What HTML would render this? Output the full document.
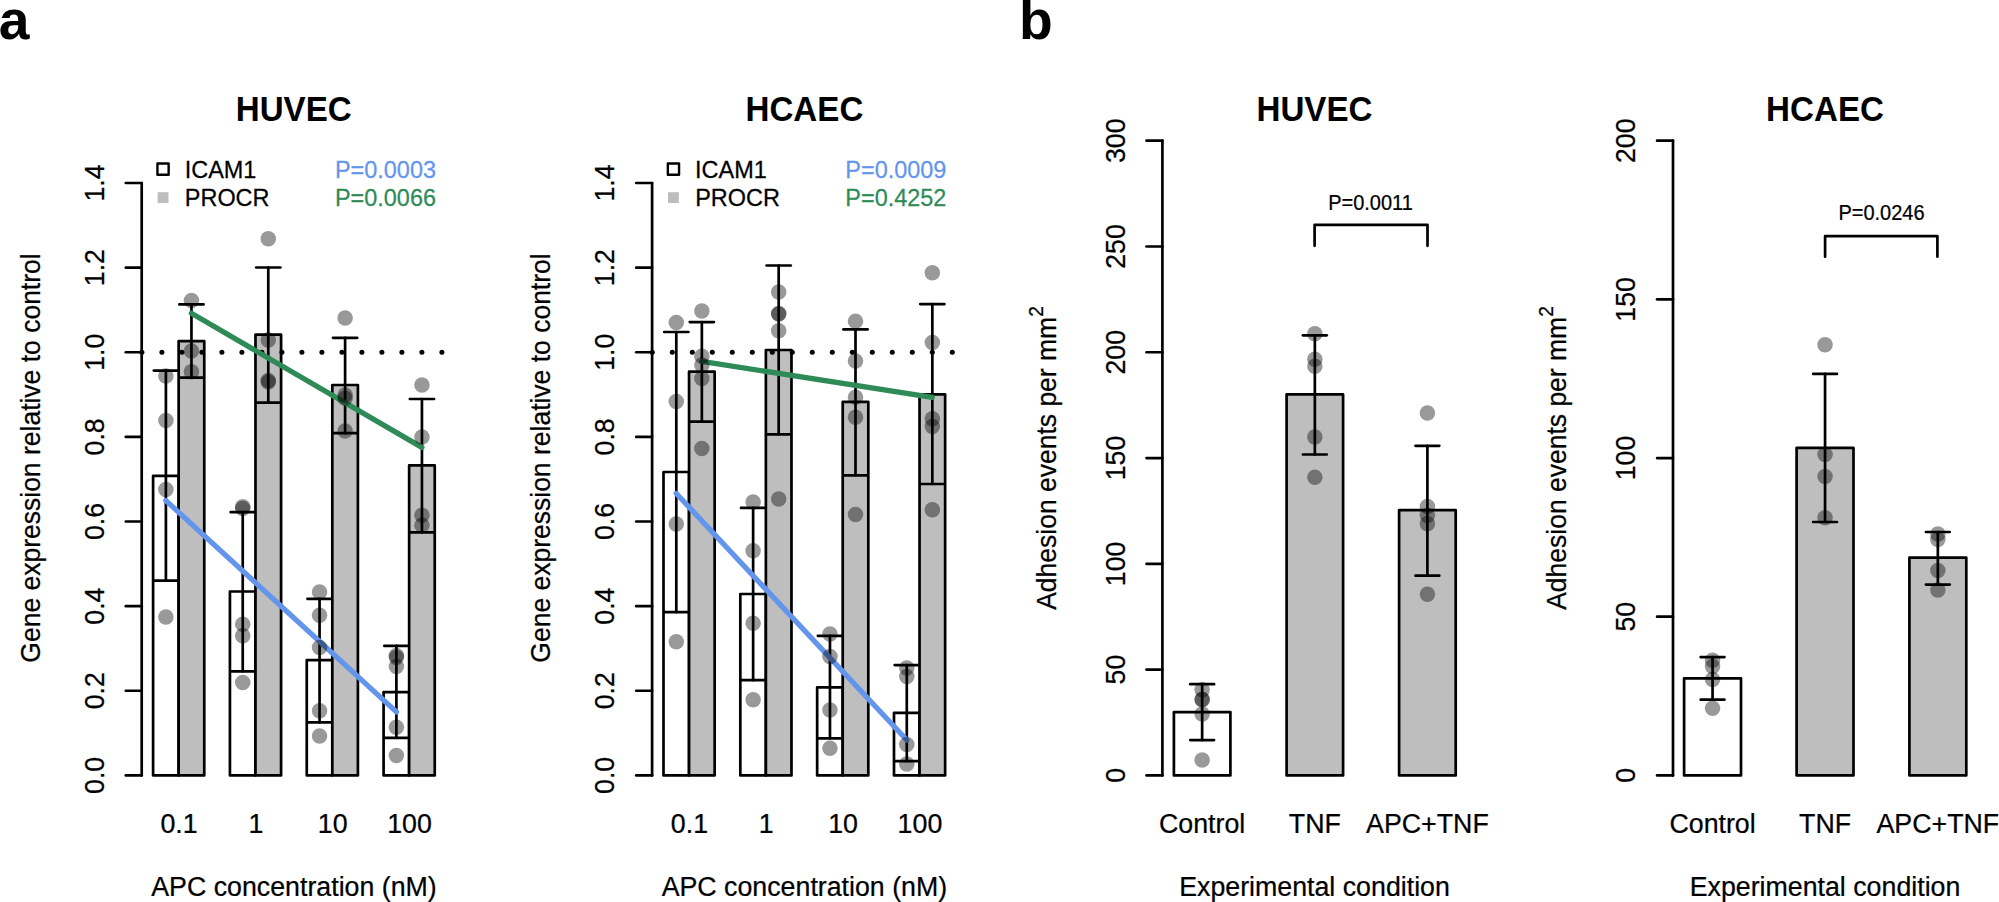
<!DOCTYPE html>
<html lang="en"><head><meta charset="utf-8"><title>Figure</title>
<style>html,body{margin:0;padding:0;background:#fff;}svg{display:block;}</style></head><body>
<svg width="1999" height="902" viewBox="0 0 1999 902" font-family='"Liberation Sans", Arial, Helvetica, sans-serif' fill="#000">
<rect x="0" y="0" width="1999" height="902" fill="#fff"/>
<text transform="translate(-1.3 38.75)" font-size="55.2" text-anchor="start" font-weight="bold">a</text>
<text transform="translate(1018.9 38.75)" font-size="55.2" text-anchor="start" font-weight="bold">b</text>
<rect x="153.1" y="475.8" width="25.55" height="299.6" fill="#fff" stroke="#000" stroke-width="2.7" stroke-linejoin="round"/>
<rect x="178.65" y="341.1" width="25.6" height="434.3" fill="#BEBEBE" stroke="#000" stroke-width="2.7" stroke-linejoin="round"/>
<rect x="229.93" y="591.5" width="25.55" height="183.9" fill="#fff" stroke="#000" stroke-width="2.7" stroke-linejoin="round"/>
<rect x="255.48" y="334.7" width="25.6" height="440.7" fill="#BEBEBE" stroke="#000" stroke-width="2.7" stroke-linejoin="round"/>
<rect x="306.76" y="660.2" width="25.55" height="115.2" fill="#fff" stroke="#000" stroke-width="2.7" stroke-linejoin="round"/>
<rect x="332.31" y="385" width="25.6" height="390.4" fill="#BEBEBE" stroke="#000" stroke-width="2.7" stroke-linejoin="round"/>
<rect x="383.59" y="692.1" width="25.55" height="83.3" fill="#fff" stroke="#000" stroke-width="2.7" stroke-linejoin="round"/>
<rect x="409.14" y="465.4" width="25.6" height="310" fill="#BEBEBE" stroke="#000" stroke-width="2.7" stroke-linejoin="round"/>
<line x1="165.9" y1="370.6" x2="165.9" y2="580.6" stroke="#000" stroke-width="2.7" stroke-linecap="round"/>
<line x1="153.8" y1="370.6" x2="178" y2="370.6" stroke="#000" stroke-width="2.7" stroke-linecap="round"/>
<line x1="153.8" y1="580.6" x2="178" y2="580.6" stroke="#000" stroke-width="2.7" stroke-linecap="round"/>
<line x1="191.45" y1="304.4" x2="191.45" y2="377.7" stroke="#000" stroke-width="2.7" stroke-linecap="round"/>
<line x1="179.35" y1="304.4" x2="203.55" y2="304.4" stroke="#000" stroke-width="2.7" stroke-linecap="round"/>
<line x1="179.35" y1="377.7" x2="203.55" y2="377.7" stroke="#000" stroke-width="2.7" stroke-linecap="round"/>
<line x1="242.73" y1="512.2" x2="242.73" y2="671.3" stroke="#000" stroke-width="2.7" stroke-linecap="round"/>
<line x1="230.63" y1="512.2" x2="254.83" y2="512.2" stroke="#000" stroke-width="2.7" stroke-linecap="round"/>
<line x1="230.63" y1="671.3" x2="254.83" y2="671.3" stroke="#000" stroke-width="2.7" stroke-linecap="round"/>
<line x1="268.28" y1="267.5" x2="268.28" y2="402.6" stroke="#000" stroke-width="2.7" stroke-linecap="round"/>
<line x1="256.18" y1="267.5" x2="280.38" y2="267.5" stroke="#000" stroke-width="2.7" stroke-linecap="round"/>
<line x1="256.18" y1="402.6" x2="280.38" y2="402.6" stroke="#000" stroke-width="2.7" stroke-linecap="round"/>
<line x1="319.56" y1="598.8" x2="319.56" y2="722.3" stroke="#000" stroke-width="2.7" stroke-linecap="round"/>
<line x1="307.46" y1="598.8" x2="331.66" y2="598.8" stroke="#000" stroke-width="2.7" stroke-linecap="round"/>
<line x1="307.46" y1="722.3" x2="331.66" y2="722.3" stroke="#000" stroke-width="2.7" stroke-linecap="round"/>
<line x1="345.11" y1="337.8" x2="345.11" y2="433.2" stroke="#000" stroke-width="2.7" stroke-linecap="round"/>
<line x1="333.01" y1="337.8" x2="357.21" y2="337.8" stroke="#000" stroke-width="2.7" stroke-linecap="round"/>
<line x1="333.01" y1="433.2" x2="357.21" y2="433.2" stroke="#000" stroke-width="2.7" stroke-linecap="round"/>
<line x1="396.39" y1="645.8" x2="396.39" y2="737.8" stroke="#000" stroke-width="2.7" stroke-linecap="round"/>
<line x1="384.29" y1="645.8" x2="408.49" y2="645.8" stroke="#000" stroke-width="2.7" stroke-linecap="round"/>
<line x1="384.29" y1="737.8" x2="408.49" y2="737.8" stroke="#000" stroke-width="2.7" stroke-linecap="round"/>
<line x1="421.94" y1="399" x2="421.94" y2="532.3" stroke="#000" stroke-width="2.7" stroke-linecap="round"/>
<line x1="409.84" y1="399" x2="434.04" y2="399" stroke="#000" stroke-width="2.7" stroke-linecap="round"/>
<line x1="409.84" y1="532.3" x2="434.04" y2="532.3" stroke="#000" stroke-width="2.7" stroke-linecap="round"/>
<circle cx="141.9" cy="352.26" r="2.5" fill="#000"/>
<circle cx="161.9" cy="352.26" r="2.5" fill="#000"/>
<circle cx="181.9" cy="352.26" r="2.5" fill="#000"/>
<circle cx="201.9" cy="352.26" r="2.5" fill="#000"/>
<circle cx="221.9" cy="352.26" r="2.5" fill="#000"/>
<circle cx="241.9" cy="352.26" r="2.5" fill="#000"/>
<circle cx="261.9" cy="352.26" r="2.5" fill="#000"/>
<circle cx="281.9" cy="352.26" r="2.5" fill="#000"/>
<circle cx="301.9" cy="352.26" r="2.5" fill="#000"/>
<circle cx="321.9" cy="352.26" r="2.5" fill="#000"/>
<circle cx="341.9" cy="352.26" r="2.5" fill="#000"/>
<circle cx="361.9" cy="352.26" r="2.5" fill="#000"/>
<circle cx="381.9" cy="352.26" r="2.5" fill="#000"/>
<circle cx="401.9" cy="352.26" r="2.5" fill="#000"/>
<circle cx="421.9" cy="352.26" r="2.5" fill="#000"/>
<circle cx="441.9" cy="352.26" r="2.5" fill="#000"/>
<line x1="191.4" y1="313.3" x2="421.9" y2="447.4" stroke="#2E8B57" stroke-width="5.3" stroke-linecap="round"/>
<line x1="165.9" y1="500.6" x2="396.4" y2="711.9" stroke="#6495ED" stroke-width="5.3" stroke-linecap="round"/>
<circle cx="165.9" cy="376.1" r="7.75" fill="#000" fill-opacity="0.4"/>
<circle cx="165.9" cy="420.6" r="7.75" fill="#000" fill-opacity="0.4"/>
<circle cx="165.9" cy="489.5" r="7.75" fill="#000" fill-opacity="0.4"/>
<circle cx="165.9" cy="617" r="7.75" fill="#000" fill-opacity="0.4"/>
<circle cx="191.45" cy="300.4" r="7.75" fill="#000" fill-opacity="0.4"/>
<circle cx="191.45" cy="351.1" r="7.75" fill="#000" fill-opacity="0.4"/>
<circle cx="191.45" cy="371.7" r="7.75" fill="#000" fill-opacity="0.4"/>
<circle cx="242.73" cy="506.8" r="7.75" fill="#000" fill-opacity="0.4"/>
<circle cx="242.73" cy="508.4" r="7.75" fill="#000" fill-opacity="0.4"/>
<circle cx="242.73" cy="624.3" r="7.75" fill="#000" fill-opacity="0.4"/>
<circle cx="242.73" cy="635.8" r="7.75" fill="#000" fill-opacity="0.4"/>
<circle cx="242.73" cy="682.4" r="7.75" fill="#000" fill-opacity="0.4"/>
<circle cx="268.28" cy="238.7" r="7.75" fill="#000" fill-opacity="0.4"/>
<circle cx="268.28" cy="340" r="7.75" fill="#000" fill-opacity="0.4"/>
<circle cx="268.28" cy="380.4" r="7.75" fill="#000" fill-opacity="0.4"/>
<circle cx="268.28" cy="382" r="7.75" fill="#000" fill-opacity="0.4"/>
<circle cx="319.56" cy="591.9" r="7.75" fill="#000" fill-opacity="0.4"/>
<circle cx="319.56" cy="615.2" r="7.75" fill="#000" fill-opacity="0.4"/>
<circle cx="319.56" cy="647.6" r="7.75" fill="#000" fill-opacity="0.4"/>
<circle cx="319.56" cy="710.8" r="7.75" fill="#000" fill-opacity="0.4"/>
<circle cx="319.56" cy="736" r="7.75" fill="#000" fill-opacity="0.4"/>
<circle cx="345.11" cy="318.1" r="7.75" fill="#000" fill-opacity="0.4"/>
<circle cx="345.11" cy="395" r="7.75" fill="#000" fill-opacity="0.4"/>
<circle cx="345.11" cy="398.3" r="7.75" fill="#000" fill-opacity="0.4"/>
<circle cx="345.11" cy="431" r="7.75" fill="#000" fill-opacity="0.4"/>
<circle cx="396.39" cy="655.4" r="7.75" fill="#000" fill-opacity="0.4"/>
<circle cx="396.39" cy="657.4" r="7.75" fill="#000" fill-opacity="0.4"/>
<circle cx="396.39" cy="666.4" r="7.75" fill="#000" fill-opacity="0.4"/>
<circle cx="396.39" cy="727.2" r="7.75" fill="#000" fill-opacity="0.4"/>
<circle cx="396.39" cy="755.6" r="7.75" fill="#000" fill-opacity="0.4"/>
<circle cx="421.94" cy="385" r="7.75" fill="#000" fill-opacity="0.4"/>
<circle cx="421.94" cy="437" r="7.75" fill="#000" fill-opacity="0.4"/>
<circle cx="421.94" cy="515.2" r="7.75" fill="#000" fill-opacity="0.4"/>
<circle cx="421.94" cy="525.2" r="7.75" fill="#000" fill-opacity="0.4"/>
<line x1="141.7" y1="775.4" x2="141.7" y2="183" stroke="#000" stroke-width="2.7" stroke-linecap="round"/>
<line x1="125.8" y1="775.4" x2="141.7" y2="775.4" stroke="#000" stroke-width="2.7" stroke-linecap="round"/>
<text transform="translate(103.5 775.4) rotate(-90) scale(0.97 1)" font-size="27.6" text-anchor="middle" stroke="#000" stroke-width="0.25">0.0</text>
<line x1="125.8" y1="690.77" x2="141.7" y2="690.77" stroke="#000" stroke-width="2.7" stroke-linecap="round"/>
<text transform="translate(103.5 690.77) rotate(-90) scale(0.97 1)" font-size="27.6" text-anchor="middle" stroke="#000" stroke-width="0.25">0.2</text>
<line x1="125.8" y1="606.14" x2="141.7" y2="606.14" stroke="#000" stroke-width="2.7" stroke-linecap="round"/>
<text transform="translate(103.5 606.14) rotate(-90) scale(0.97 1)" font-size="27.6" text-anchor="middle" stroke="#000" stroke-width="0.25">0.4</text>
<line x1="125.8" y1="521.51" x2="141.7" y2="521.51" stroke="#000" stroke-width="2.7" stroke-linecap="round"/>
<text transform="translate(103.5 521.51) rotate(-90) scale(0.97 1)" font-size="27.6" text-anchor="middle" stroke="#000" stroke-width="0.25">0.6</text>
<line x1="125.8" y1="436.89" x2="141.7" y2="436.89" stroke="#000" stroke-width="2.7" stroke-linecap="round"/>
<text transform="translate(103.5 436.89) rotate(-90) scale(0.97 1)" font-size="27.6" text-anchor="middle" stroke="#000" stroke-width="0.25">0.8</text>
<line x1="125.8" y1="352.26" x2="141.7" y2="352.26" stroke="#000" stroke-width="2.7" stroke-linecap="round"/>
<text transform="translate(103.5 352.26) rotate(-90) scale(0.97 1)" font-size="27.6" text-anchor="middle" stroke="#000" stroke-width="0.25">1.0</text>
<line x1="125.8" y1="267.63" x2="141.7" y2="267.63" stroke="#000" stroke-width="2.7" stroke-linecap="round"/>
<text transform="translate(103.5 267.63) rotate(-90) scale(0.97 1)" font-size="27.6" text-anchor="middle" stroke="#000" stroke-width="0.25">1.2</text>
<line x1="125.8" y1="183" x2="141.7" y2="183" stroke="#000" stroke-width="2.7" stroke-linecap="round"/>
<text transform="translate(103.5 183) rotate(-90) scale(0.97 1)" font-size="27.6" text-anchor="middle" stroke="#000" stroke-width="0.25">1.4</text>
<text transform="translate(179.05 833) scale(0.97 1)" font-size="27.6" text-anchor="middle" stroke="#000" stroke-width="0.25">0.1</text>
<text transform="translate(255.88 833) scale(0.97 1)" font-size="27.6" text-anchor="middle" stroke="#000" stroke-width="0.25">1</text>
<text transform="translate(332.71 833) scale(0.97 1)" font-size="27.6" text-anchor="middle" stroke="#000" stroke-width="0.25">10</text>
<text transform="translate(409.54 833) scale(0.97 1)" font-size="27.6" text-anchor="middle" stroke="#000" stroke-width="0.25">100</text>
<text transform="translate(294 896) scale(0.97 1)" font-size="27.6" text-anchor="middle" stroke="#000" stroke-width="0.25">APC concentration (nM)</text>
<text transform="translate(40 458) rotate(-90) scale(0.96 1)" font-size="27.6" text-anchor="middle" stroke="#000" stroke-width="0.25">Gene expression relative to control</text>
<text transform="translate(293.75 121) scale(0.95 1)" font-size="34.9" text-anchor="middle" font-weight="bold">HUVEC</text>
<rect x="157.45" y="163.55" width="11.2" height="11.2" fill="none" stroke="#000" stroke-width="2.4" stroke-linejoin="round"/>
<rect x="157.6" y="192.2" width="10.9" height="10.9" fill="#BEBEBE"/>
<text transform="translate(184.7 178) scale(0.95 1)" font-size="24.7" text-anchor="start" stroke="#000" stroke-width="0.25">ICAM1</text>
<text transform="translate(184.8 206) scale(0.95 1)" font-size="24.7" text-anchor="start" stroke="#000" stroke-width="0.25">PROCR</text>
<text transform="translate(334.9 178) scale(0.95 1)" font-size="24.7" text-anchor="start" fill="#6495ED" stroke="#6495ED" stroke-width="0.25">P=0.0003</text>
<text transform="translate(334.9 206) scale(0.95 1)" font-size="24.7" text-anchor="start" fill="#2E8B57" stroke="#2E8B57" stroke-width="0.25">P=0.0066</text>
<rect x="663.5" y="472" width="25.55" height="303.4" fill="#fff" stroke="#000" stroke-width="2.7" stroke-linejoin="round"/>
<rect x="689.05" y="371.7" width="25.6" height="403.7" fill="#BEBEBE" stroke="#000" stroke-width="2.7" stroke-linejoin="round"/>
<rect x="740.33" y="594" width="25.55" height="181.4" fill="#fff" stroke="#000" stroke-width="2.7" stroke-linejoin="round"/>
<rect x="765.88" y="350" width="25.6" height="425.4" fill="#BEBEBE" stroke="#000" stroke-width="2.7" stroke-linejoin="round"/>
<rect x="817.16" y="687.3" width="25.55" height="88.1" fill="#fff" stroke="#000" stroke-width="2.7" stroke-linejoin="round"/>
<rect x="842.71" y="401.9" width="25.6" height="373.5" fill="#BEBEBE" stroke="#000" stroke-width="2.7" stroke-linejoin="round"/>
<rect x="893.99" y="712.8" width="25.55" height="62.6" fill="#fff" stroke="#000" stroke-width="2.7" stroke-linejoin="round"/>
<rect x="919.54" y="394.3" width="25.6" height="381.1" fill="#BEBEBE" stroke="#000" stroke-width="2.7" stroke-linejoin="round"/>
<line x1="676.3" y1="332" x2="676.3" y2="612.1" stroke="#000" stroke-width="2.7" stroke-linecap="round"/>
<line x1="664.2" y1="332" x2="688.4" y2="332" stroke="#000" stroke-width="2.7" stroke-linecap="round"/>
<line x1="664.2" y1="612.1" x2="688.4" y2="612.1" stroke="#000" stroke-width="2.7" stroke-linecap="round"/>
<line x1="701.85" y1="322.05" x2="701.85" y2="421.7" stroke="#000" stroke-width="2.7" stroke-linecap="round"/>
<line x1="689.75" y1="322.05" x2="713.95" y2="322.05" stroke="#000" stroke-width="2.7" stroke-linecap="round"/>
<line x1="689.75" y1="421.7" x2="713.95" y2="421.7" stroke="#000" stroke-width="2.7" stroke-linecap="round"/>
<line x1="753.13" y1="507.9" x2="753.13" y2="680.2" stroke="#000" stroke-width="2.7" stroke-linecap="round"/>
<line x1="741.03" y1="507.9" x2="765.23" y2="507.9" stroke="#000" stroke-width="2.7" stroke-linecap="round"/>
<line x1="741.03" y1="680.2" x2="765.23" y2="680.2" stroke="#000" stroke-width="2.7" stroke-linecap="round"/>
<line x1="778.68" y1="265.5" x2="778.68" y2="434.3" stroke="#000" stroke-width="2.7" stroke-linecap="round"/>
<line x1="766.58" y1="265.5" x2="790.78" y2="265.5" stroke="#000" stroke-width="2.7" stroke-linecap="round"/>
<line x1="766.58" y1="434.3" x2="790.78" y2="434.3" stroke="#000" stroke-width="2.7" stroke-linecap="round"/>
<line x1="829.96" y1="635.8" x2="829.96" y2="738.3" stroke="#000" stroke-width="2.7" stroke-linecap="round"/>
<line x1="817.86" y1="635.8" x2="842.06" y2="635.8" stroke="#000" stroke-width="2.7" stroke-linecap="round"/>
<line x1="817.86" y1="738.3" x2="842.06" y2="738.3" stroke="#000" stroke-width="2.7" stroke-linecap="round"/>
<line x1="855.51" y1="329.4" x2="855.51" y2="475.3" stroke="#000" stroke-width="2.7" stroke-linecap="round"/>
<line x1="843.41" y1="329.4" x2="867.61" y2="329.4" stroke="#000" stroke-width="2.7" stroke-linecap="round"/>
<line x1="843.41" y1="475.3" x2="867.61" y2="475.3" stroke="#000" stroke-width="2.7" stroke-linecap="round"/>
<line x1="906.79" y1="665.1" x2="906.79" y2="761.1" stroke="#000" stroke-width="2.7" stroke-linecap="round"/>
<line x1="894.69" y1="665.1" x2="918.89" y2="665.1" stroke="#000" stroke-width="2.7" stroke-linecap="round"/>
<line x1="894.69" y1="761.1" x2="918.89" y2="761.1" stroke="#000" stroke-width="2.7" stroke-linecap="round"/>
<line x1="932.34" y1="304.1" x2="932.34" y2="484" stroke="#000" stroke-width="2.7" stroke-linecap="round"/>
<line x1="920.24" y1="304.1" x2="944.44" y2="304.1" stroke="#000" stroke-width="2.7" stroke-linecap="round"/>
<line x1="920.24" y1="484" x2="944.44" y2="484" stroke="#000" stroke-width="2.7" stroke-linecap="round"/>
<circle cx="652.3" cy="352.26" r="2.5" fill="#000"/>
<circle cx="672.3" cy="352.26" r="2.5" fill="#000"/>
<circle cx="692.3" cy="352.26" r="2.5" fill="#000"/>
<circle cx="712.3" cy="352.26" r="2.5" fill="#000"/>
<circle cx="732.3" cy="352.26" r="2.5" fill="#000"/>
<circle cx="752.3" cy="352.26" r="2.5" fill="#000"/>
<circle cx="772.3" cy="352.26" r="2.5" fill="#000"/>
<circle cx="792.3" cy="352.26" r="2.5" fill="#000"/>
<circle cx="812.3" cy="352.26" r="2.5" fill="#000"/>
<circle cx="832.3" cy="352.26" r="2.5" fill="#000"/>
<circle cx="852.3" cy="352.26" r="2.5" fill="#000"/>
<circle cx="872.3" cy="352.26" r="2.5" fill="#000"/>
<circle cx="892.3" cy="352.26" r="2.5" fill="#000"/>
<circle cx="912.3" cy="352.26" r="2.5" fill="#000"/>
<circle cx="932.3" cy="352.26" r="2.5" fill="#000"/>
<circle cx="952.3" cy="352.26" r="2.5" fill="#000"/>
<line x1="701.8" y1="361.4" x2="932.3" y2="397.3" stroke="#2E8B57" stroke-width="5.3" stroke-linecap="round"/>
<line x1="676.3" y1="493.5" x2="906.8" y2="740" stroke="#6495ED" stroke-width="5.3" stroke-linecap="round"/>
<circle cx="676.3" cy="322.5" r="7.75" fill="#000" fill-opacity="0.4"/>
<circle cx="676.3" cy="401.4" r="7.75" fill="#000" fill-opacity="0.4"/>
<circle cx="676.3" cy="523.9" r="7.75" fill="#000" fill-opacity="0.4"/>
<circle cx="676.3" cy="641.8" r="7.75" fill="#000" fill-opacity="0.4"/>
<circle cx="701.85" cy="311" r="7.75" fill="#000" fill-opacity="0.4"/>
<circle cx="701.85" cy="356.2" r="7.75" fill="#000" fill-opacity="0.4"/>
<circle cx="701.85" cy="365.1" r="7.75" fill="#000" fill-opacity="0.4"/>
<circle cx="701.85" cy="378.4" r="7.75" fill="#000" fill-opacity="0.4"/>
<circle cx="701.85" cy="448.5" r="7.75" fill="#000" fill-opacity="0.4"/>
<circle cx="753.13" cy="501.9" r="7.75" fill="#000" fill-opacity="0.4"/>
<circle cx="753.13" cy="550.7" r="7.75" fill="#000" fill-opacity="0.4"/>
<circle cx="753.13" cy="623.2" r="7.75" fill="#000" fill-opacity="0.4"/>
<circle cx="753.13" cy="699.7" r="7.75" fill="#000" fill-opacity="0.4"/>
<circle cx="778.68" cy="291.9" r="7.75" fill="#000" fill-opacity="0.4"/>
<circle cx="778.68" cy="313.6" r="7.75" fill="#000" fill-opacity="0.4"/>
<circle cx="778.68" cy="314" r="7.75" fill="#000" fill-opacity="0.4"/>
<circle cx="778.68" cy="330.7" r="7.75" fill="#000" fill-opacity="0.4"/>
<circle cx="778.68" cy="499" r="7.75" fill="#000" fill-opacity="0.4"/>
<circle cx="829.96" cy="634.1" r="7.75" fill="#000" fill-opacity="0.4"/>
<circle cx="829.96" cy="656.5" r="7.75" fill="#000" fill-opacity="0.4"/>
<circle cx="829.96" cy="710.1" r="7.75" fill="#000" fill-opacity="0.4"/>
<circle cx="829.96" cy="748.2" r="7.75" fill="#000" fill-opacity="0.4"/>
<circle cx="855.51" cy="321.2" r="7.75" fill="#000" fill-opacity="0.4"/>
<circle cx="855.51" cy="361.1" r="7.75" fill="#000" fill-opacity="0.4"/>
<circle cx="855.51" cy="397.2" r="7.75" fill="#000" fill-opacity="0.4"/>
<circle cx="855.51" cy="417.3" r="7.75" fill="#000" fill-opacity="0.4"/>
<circle cx="855.51" cy="514.6" r="7.75" fill="#000" fill-opacity="0.4"/>
<circle cx="906.79" cy="668" r="7.75" fill="#000" fill-opacity="0.4"/>
<circle cx="906.79" cy="676.4" r="7.75" fill="#000" fill-opacity="0.4"/>
<circle cx="906.79" cy="744.5" r="7.75" fill="#000" fill-opacity="0.4"/>
<circle cx="906.79" cy="764" r="7.75" fill="#000" fill-opacity="0.4"/>
<circle cx="932.34" cy="272.8" r="7.75" fill="#000" fill-opacity="0.4"/>
<circle cx="932.34" cy="342.4" r="7.75" fill="#000" fill-opacity="0.4"/>
<circle cx="932.34" cy="418.8" r="7.75" fill="#000" fill-opacity="0.4"/>
<circle cx="932.34" cy="426.4" r="7.75" fill="#000" fill-opacity="0.4"/>
<circle cx="932.34" cy="509.7" r="7.75" fill="#000" fill-opacity="0.4"/>
<line x1="652.1" y1="775.4" x2="652.1" y2="183" stroke="#000" stroke-width="2.7" stroke-linecap="round"/>
<line x1="636.2" y1="775.4" x2="652.1" y2="775.4" stroke="#000" stroke-width="2.7" stroke-linecap="round"/>
<text transform="translate(613.9 775.4) rotate(-90) scale(0.97 1)" font-size="27.6" text-anchor="middle" stroke="#000" stroke-width="0.25">0.0</text>
<line x1="636.2" y1="690.77" x2="652.1" y2="690.77" stroke="#000" stroke-width="2.7" stroke-linecap="round"/>
<text transform="translate(613.9 690.77) rotate(-90) scale(0.97 1)" font-size="27.6" text-anchor="middle" stroke="#000" stroke-width="0.25">0.2</text>
<line x1="636.2" y1="606.14" x2="652.1" y2="606.14" stroke="#000" stroke-width="2.7" stroke-linecap="round"/>
<text transform="translate(613.9 606.14) rotate(-90) scale(0.97 1)" font-size="27.6" text-anchor="middle" stroke="#000" stroke-width="0.25">0.4</text>
<line x1="636.2" y1="521.51" x2="652.1" y2="521.51" stroke="#000" stroke-width="2.7" stroke-linecap="round"/>
<text transform="translate(613.9 521.51) rotate(-90) scale(0.97 1)" font-size="27.6" text-anchor="middle" stroke="#000" stroke-width="0.25">0.6</text>
<line x1="636.2" y1="436.89" x2="652.1" y2="436.89" stroke="#000" stroke-width="2.7" stroke-linecap="round"/>
<text transform="translate(613.9 436.89) rotate(-90) scale(0.97 1)" font-size="27.6" text-anchor="middle" stroke="#000" stroke-width="0.25">0.8</text>
<line x1="636.2" y1="352.26" x2="652.1" y2="352.26" stroke="#000" stroke-width="2.7" stroke-linecap="round"/>
<text transform="translate(613.9 352.26) rotate(-90) scale(0.97 1)" font-size="27.6" text-anchor="middle" stroke="#000" stroke-width="0.25">1.0</text>
<line x1="636.2" y1="267.63" x2="652.1" y2="267.63" stroke="#000" stroke-width="2.7" stroke-linecap="round"/>
<text transform="translate(613.9 267.63) rotate(-90) scale(0.97 1)" font-size="27.6" text-anchor="middle" stroke="#000" stroke-width="0.25">1.2</text>
<line x1="636.2" y1="183" x2="652.1" y2="183" stroke="#000" stroke-width="2.7" stroke-linecap="round"/>
<text transform="translate(613.9 183) rotate(-90) scale(0.97 1)" font-size="27.6" text-anchor="middle" stroke="#000" stroke-width="0.25">1.4</text>
<text transform="translate(689.45 833) scale(0.97 1)" font-size="27.6" text-anchor="middle" stroke="#000" stroke-width="0.25">0.1</text>
<text transform="translate(766.28 833) scale(0.97 1)" font-size="27.6" text-anchor="middle" stroke="#000" stroke-width="0.25">1</text>
<text transform="translate(843.11 833) scale(0.97 1)" font-size="27.6" text-anchor="middle" stroke="#000" stroke-width="0.25">10</text>
<text transform="translate(919.94 833) scale(0.97 1)" font-size="27.6" text-anchor="middle" stroke="#000" stroke-width="0.25">100</text>
<text transform="translate(804.4 896) scale(0.97 1)" font-size="27.6" text-anchor="middle" stroke="#000" stroke-width="0.25">APC concentration (nM)</text>
<text transform="translate(550.4 458) rotate(-90) scale(0.96 1)" font-size="27.6" text-anchor="middle" stroke="#000" stroke-width="0.25">Gene expression relative to control</text>
<text transform="translate(804.4 121) scale(0.95 1)" font-size="34.9" text-anchor="middle" font-weight="bold">HCAEC</text>
<rect x="667.85" y="163.55" width="11.2" height="11.2" fill="none" stroke="#000" stroke-width="2.4" stroke-linejoin="round"/>
<rect x="668" y="192.2" width="10.9" height="10.9" fill="#BEBEBE"/>
<text transform="translate(695.1 178) scale(0.95 1)" font-size="24.7" text-anchor="start" stroke="#000" stroke-width="0.25">ICAM1</text>
<text transform="translate(695.2 206) scale(0.95 1)" font-size="24.7" text-anchor="start" stroke="#000" stroke-width="0.25">PROCR</text>
<text transform="translate(845.3 178) scale(0.95 1)" font-size="24.7" text-anchor="start" fill="#6495ED" stroke="#6495ED" stroke-width="0.25">P=0.0009</text>
<text transform="translate(845.3 206) scale(0.95 1)" font-size="24.7" text-anchor="start" fill="#2E8B57" stroke="#2E8B57" stroke-width="0.25">P=0.4252</text>
<rect x="1173.9" y="712.1" width="56.5" height="63.3" fill="#fff" stroke="#000" stroke-width="2.7" stroke-linejoin="round"/>
<rect x="1286.6" y="394.4" width="56.5" height="381" fill="#BEBEBE" stroke="#000" stroke-width="2.7" stroke-linejoin="round"/>
<rect x="1399.1" y="510.1" width="56.6" height="265.3" fill="#BEBEBE" stroke="#000" stroke-width="2.7" stroke-linejoin="round"/>
<line x1="1202.15" y1="684.2" x2="1202.15" y2="740.1" stroke="#000" stroke-width="2.7" stroke-linecap="round"/>
<line x1="1190.25" y1="684.2" x2="1214.05" y2="684.2" stroke="#000" stroke-width="2.7" stroke-linecap="round"/>
<line x1="1190.25" y1="740.1" x2="1214.05" y2="740.1" stroke="#000" stroke-width="2.7" stroke-linecap="round"/>
<line x1="1314.85" y1="335.3" x2="1314.85" y2="454.5" stroke="#000" stroke-width="2.7" stroke-linecap="round"/>
<line x1="1302.95" y1="335.3" x2="1326.75" y2="335.3" stroke="#000" stroke-width="2.7" stroke-linecap="round"/>
<line x1="1302.95" y1="454.5" x2="1326.75" y2="454.5" stroke="#000" stroke-width="2.7" stroke-linecap="round"/>
<line x1="1427.4" y1="445.8" x2="1427.4" y2="575.7" stroke="#000" stroke-width="2.7" stroke-linecap="round"/>
<line x1="1415.5" y1="445.8" x2="1439.3" y2="445.8" stroke="#000" stroke-width="2.7" stroke-linecap="round"/>
<line x1="1415.5" y1="575.7" x2="1439.3" y2="575.7" stroke="#000" stroke-width="2.7" stroke-linecap="round"/>
<circle cx="1202.15" cy="689.7" r="7.75" fill="#000" fill-opacity="0.4"/>
<circle cx="1202.15" cy="699.3" r="7.75" fill="#000" fill-opacity="0.4"/>
<circle cx="1202.15" cy="699.8" r="7.75" fill="#000" fill-opacity="0.4"/>
<circle cx="1202.15" cy="713.9" r="7.75" fill="#000" fill-opacity="0.4"/>
<circle cx="1202.15" cy="760" r="7.75" fill="#000" fill-opacity="0.4"/>
<circle cx="1314.85" cy="333.8" r="7.75" fill="#000" fill-opacity="0.4"/>
<circle cx="1314.85" cy="359.3" r="7.75" fill="#000" fill-opacity="0.4"/>
<circle cx="1314.85" cy="366.2" r="7.75" fill="#000" fill-opacity="0.4"/>
<circle cx="1314.85" cy="437.1" r="7.75" fill="#000" fill-opacity="0.4"/>
<circle cx="1314.85" cy="477.2" r="7.75" fill="#000" fill-opacity="0.4"/>
<circle cx="1427.4" cy="412.9" r="7.75" fill="#000" fill-opacity="0.4"/>
<circle cx="1427.4" cy="506.4" r="7.75" fill="#000" fill-opacity="0.4"/>
<circle cx="1427.4" cy="515.6" r="7.75" fill="#000" fill-opacity="0.4"/>
<circle cx="1427.4" cy="523.8" r="7.75" fill="#000" fill-opacity="0.4"/>
<circle cx="1427.4" cy="594.2" r="7.75" fill="#000" fill-opacity="0.4"/>
<line x1="1162.4" y1="775.4" x2="1162.4" y2="140.7" stroke="#000" stroke-width="2.7" stroke-linecap="round"/>
<line x1="1146.5" y1="775.4" x2="1162.4" y2="775.4" stroke="#000" stroke-width="2.7" stroke-linecap="round"/>
<text transform="translate(1124.6 775.4) rotate(-90) scale(0.97 1)" font-size="27.6" text-anchor="middle" stroke="#000" stroke-width="0.25">0</text>
<line x1="1146.5" y1="669.62" x2="1162.4" y2="669.62" stroke="#000" stroke-width="2.7" stroke-linecap="round"/>
<text transform="translate(1124.6 669.62) rotate(-90) scale(0.97 1)" font-size="27.6" text-anchor="middle" stroke="#000" stroke-width="0.25">50</text>
<line x1="1146.5" y1="563.83" x2="1162.4" y2="563.83" stroke="#000" stroke-width="2.7" stroke-linecap="round"/>
<text transform="translate(1124.6 563.83) rotate(-90) scale(0.97 1)" font-size="27.6" text-anchor="middle" stroke="#000" stroke-width="0.25">100</text>
<line x1="1146.5" y1="458.05" x2="1162.4" y2="458.05" stroke="#000" stroke-width="2.7" stroke-linecap="round"/>
<text transform="translate(1124.6 458.05) rotate(-90) scale(0.97 1)" font-size="27.6" text-anchor="middle" stroke="#000" stroke-width="0.25">150</text>
<line x1="1146.5" y1="352.27" x2="1162.4" y2="352.27" stroke="#000" stroke-width="2.7" stroke-linecap="round"/>
<text transform="translate(1124.6 352.27) rotate(-90) scale(0.97 1)" font-size="27.6" text-anchor="middle" stroke="#000" stroke-width="0.25">200</text>
<line x1="1146.5" y1="246.48" x2="1162.4" y2="246.48" stroke="#000" stroke-width="2.7" stroke-linecap="round"/>
<text transform="translate(1124.6 246.48) rotate(-90) scale(0.97 1)" font-size="27.6" text-anchor="middle" stroke="#000" stroke-width="0.25">250</text>
<line x1="1146.5" y1="140.7" x2="1162.4" y2="140.7" stroke="#000" stroke-width="2.7" stroke-linecap="round"/>
<text transform="translate(1124.6 140.7) rotate(-90) scale(0.97 1)" font-size="27.6" text-anchor="middle" stroke="#000" stroke-width="0.25">300</text>
<polyline points="1314.6,245.8 1314.6,224.9 1427.5,224.9 1427.5,245.8" fill="none" stroke="#000" stroke-width="2.7" stroke-linecap="round" stroke-linejoin="round"/>
<text transform="translate(1370.5 210) scale(0.93 1)" font-size="21.5" text-anchor="middle" stroke="#000" stroke-width="0.25">P=0.0011</text>
<text transform="translate(1202.15 833) scale(0.97 1)" font-size="27.6" text-anchor="middle" stroke="#000" stroke-width="0.25">Control</text>
<text transform="translate(1314.85 833) scale(0.97 1)" font-size="27.6" text-anchor="middle" stroke="#000" stroke-width="0.25">TNF</text>
<text transform="translate(1427.4 833) scale(0.97 1)" font-size="27.6" text-anchor="middle" stroke="#000" stroke-width="0.25">APC+TNF</text>
<text transform="translate(1314.5 896) scale(0.97 1)" font-size="27.6" text-anchor="middle" stroke="#000" stroke-width="0.25">Experimental condition</text>
<text transform="translate(1314.5 121) scale(0.95 1)" font-size="34.9" text-anchor="middle" font-weight="bold">HUVEC</text>
<text transform="translate(1055.8 458) rotate(-90) scale(0.96 1)" font-size="27.6" text-anchor="middle" stroke="#000" stroke-width="0.25">Adhesion events per mm<tspan font-size="20" dy="-13.2">2</tspan></text>
<rect x="1684.1" y="678.3" width="56.9" height="97.1" fill="#fff" stroke="#000" stroke-width="2.7" stroke-linejoin="round"/>
<rect x="1796.6" y="447.9" width="56.9" height="327.5" fill="#BEBEBE" stroke="#000" stroke-width="2.7" stroke-linejoin="round"/>
<rect x="1909.4" y="557.7" width="56.9" height="217.7" fill="#BEBEBE" stroke="#000" stroke-width="2.7" stroke-linejoin="round"/>
<line x1="1712.55" y1="657.1" x2="1712.55" y2="699.7" stroke="#000" stroke-width="2.7" stroke-linecap="round"/>
<line x1="1700.65" y1="657.1" x2="1724.45" y2="657.1" stroke="#000" stroke-width="2.7" stroke-linecap="round"/>
<line x1="1700.65" y1="699.7" x2="1724.45" y2="699.7" stroke="#000" stroke-width="2.7" stroke-linecap="round"/>
<line x1="1825.05" y1="373.9" x2="1825.05" y2="522" stroke="#000" stroke-width="2.7" stroke-linecap="round"/>
<line x1="1813.15" y1="373.9" x2="1836.95" y2="373.9" stroke="#000" stroke-width="2.7" stroke-linecap="round"/>
<line x1="1813.15" y1="522" x2="1836.95" y2="522" stroke="#000" stroke-width="2.7" stroke-linecap="round"/>
<line x1="1937.85" y1="532" x2="1937.85" y2="584.6" stroke="#000" stroke-width="2.7" stroke-linecap="round"/>
<line x1="1925.95" y1="532" x2="1949.75" y2="532" stroke="#000" stroke-width="2.7" stroke-linecap="round"/>
<line x1="1925.95" y1="584.6" x2="1949.75" y2="584.6" stroke="#000" stroke-width="2.7" stroke-linecap="round"/>
<circle cx="1712.55" cy="660.3" r="7.75" fill="#000" fill-opacity="0.4"/>
<circle cx="1712.55" cy="666.6" r="7.75" fill="#000" fill-opacity="0.4"/>
<circle cx="1712.55" cy="679.5" r="7.75" fill="#000" fill-opacity="0.4"/>
<circle cx="1712.55" cy="708.2" r="7.75" fill="#000" fill-opacity="0.4"/>
<circle cx="1825.05" cy="344.75" r="7.75" fill="#000" fill-opacity="0.4"/>
<circle cx="1825.05" cy="454.5" r="7.75" fill="#000" fill-opacity="0.4"/>
<circle cx="1825.05" cy="476.4" r="7.75" fill="#000" fill-opacity="0.4"/>
<circle cx="1825.05" cy="517.7" r="7.75" fill="#000" fill-opacity="0.4"/>
<circle cx="1937.85" cy="534" r="7.75" fill="#000" fill-opacity="0.4"/>
<circle cx="1937.85" cy="539.4" r="7.75" fill="#000" fill-opacity="0.4"/>
<circle cx="1937.85" cy="570.6" r="7.75" fill="#000" fill-opacity="0.4"/>
<circle cx="1937.85" cy="590.1" r="7.75" fill="#000" fill-opacity="0.4"/>
<line x1="1673" y1="775.4" x2="1673" y2="140.7" stroke="#000" stroke-width="2.7" stroke-linecap="round"/>
<line x1="1657.1" y1="775.4" x2="1673" y2="775.4" stroke="#000" stroke-width="2.7" stroke-linecap="round"/>
<text transform="translate(1635.2 775.4) rotate(-90) scale(0.97 1)" font-size="27.6" text-anchor="middle" stroke="#000" stroke-width="0.25">0</text>
<line x1="1657.1" y1="616.72" x2="1673" y2="616.72" stroke="#000" stroke-width="2.7" stroke-linecap="round"/>
<text transform="translate(1635.2 616.72) rotate(-90) scale(0.97 1)" font-size="27.6" text-anchor="middle" stroke="#000" stroke-width="0.25">50</text>
<line x1="1657.1" y1="458.05" x2="1673" y2="458.05" stroke="#000" stroke-width="2.7" stroke-linecap="round"/>
<text transform="translate(1635.2 458.05) rotate(-90) scale(0.97 1)" font-size="27.6" text-anchor="middle" stroke="#000" stroke-width="0.25">100</text>
<line x1="1657.1" y1="299.37" x2="1673" y2="299.37" stroke="#000" stroke-width="2.7" stroke-linecap="round"/>
<text transform="translate(1635.2 299.37) rotate(-90) scale(0.97 1)" font-size="27.6" text-anchor="middle" stroke="#000" stroke-width="0.25">150</text>
<line x1="1657.1" y1="140.7" x2="1673" y2="140.7" stroke="#000" stroke-width="2.7" stroke-linecap="round"/>
<text transform="translate(1635.2 140.7) rotate(-90) scale(0.97 1)" font-size="27.6" text-anchor="middle" stroke="#000" stroke-width="0.25">200</text>
<polyline points="1825.1,256.7 1825.1,236.1 1937.4,236.1 1937.4,256.7" fill="none" stroke="#000" stroke-width="2.7" stroke-linecap="round" stroke-linejoin="round"/>
<text transform="translate(1881.5 220) scale(0.93 1)" font-size="21.5" text-anchor="middle" stroke="#000" stroke-width="0.25">P=0.0246</text>
<text transform="translate(1712.55 833) scale(0.97 1)" font-size="27.6" text-anchor="middle" stroke="#000" stroke-width="0.25">Control</text>
<text transform="translate(1825.05 833) scale(0.97 1)" font-size="27.6" text-anchor="middle" stroke="#000" stroke-width="0.25">TNF</text>
<text transform="translate(1937.85 833) scale(0.97 1)" font-size="27.6" text-anchor="middle" stroke="#000" stroke-width="0.25">APC+TNF</text>
<text transform="translate(1825 896) scale(0.97 1)" font-size="27.6" text-anchor="middle" stroke="#000" stroke-width="0.25">Experimental condition</text>
<text transform="translate(1825 121) scale(0.95 1)" font-size="34.9" text-anchor="middle" font-weight="bold">HCAEC</text>
<text transform="translate(1566.4 458) rotate(-90) scale(0.96 1)" font-size="27.6" text-anchor="middle" stroke="#000" stroke-width="0.25">Adhesion events per mm<tspan font-size="20" dy="-13.2">2</tspan></text>
</svg></body></html>
